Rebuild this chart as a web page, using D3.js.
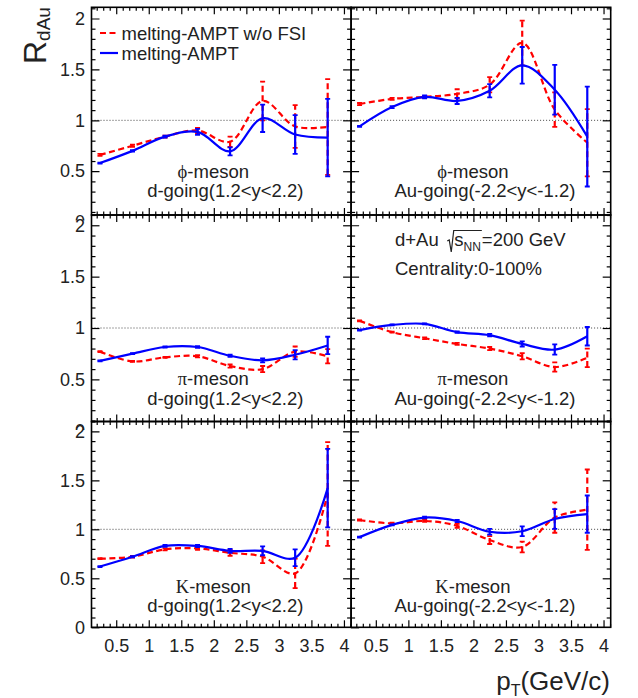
<!DOCTYPE html>
<html>
<head>
<meta charset="utf-8">
<script src="https://cdn.jsdelivr.net/npm/d3@7"></script>
<style>
  body { margin: 0; background: #fff; }
  text { font-family: "Liberation Sans", Arial, sans-serif; fill: #222; }
</style>
</head>
<body>
<svg id="chart" width="638" height="698"></svg>
<script>
// ---- data ----
var pt = [0.25, 0.75, 1.25, 1.75, 2.25, 2.75, 3.25, 3.75];
var xMajor = [0.5, 1, 1.5, 2, 2.5, 3, 3.5, 4];
var yMajor = [0, 0.5, 1, 1.5, 2];
var seriesNames = ["melting-AMPT w/o FSI", "melting-AMPT"];
var mesons = ["\u03D5", "\u03C0", "K"];
var rapidityLabels = ["d-going(1.2<y<2.2)", "Au-going(-2.2<y<-1.2)"];

// phi, d-going
var phiD_noFSI     = [0.66, 0.75, 0.84, 0.90, 0.79, 1.19, 0.94, 0.935];
var phiD_noFSI_err = [0.01, 0.01, 0.01, 0.025, 0.05, 0.19, 0.21, 0.47];
var phiD_melt      = [0.58, 0.70, 0.84, 0.886, 0.695, 1.02, 0.86, 0.83];
var phiD_melt_err  = [0.005, 0.008, 0.01, 0.03, 0.04, 0.135, 0.19, 0.38];
// phi, Au-going
var phiAu_noFSI     = [1.16, 1.21, 1.23, 1.26, 1.35, 1.76, 1.105, 0.78];
var phiAu_noFSI_err = [0.01, 0.01, 0.01, 0.045, 0.075, 0.22, 0.17, 0.33];
var phiAu_melt      = [0.94, 1.13, 1.23, 1.19, 1.29, 1.54, 1.30, 0.84];
var phiAu_melt_err  = [0.005, 0.01, 0.015, 0.03, 0.065, 0.18, 0.245, 0.49];
// pi, d-going
var piD_noFSI     = [0.77, 0.675, 0.715, 0.725, 0.63, 0.60, 0.77, 0.725];
var piD_noFSI_err = [0.005, 0.005, 0.005, 0.01, 0.015, 0.03, 0.05, 0.07];
var piD_melt      = [0.68, 0.75, 0.815, 0.815, 0.73, 0.685, 0.74, 0.83];
var piD_melt_err  = [0.005, 0.005, 0.005, 0.008, 0.01, 0.02, 0.045, 0.085];
// pi, Au-going
var piAu_noFSI     = [1.07, 0.96, 0.90, 0.845, 0.80, 0.725, 0.62, 0.71];
var piAu_noFSI_err = [0.005, 0.005, 0.008, 0.01, 0.015, 0.03, 0.045, 0.09];
var piAu_melt      = [0.98, 1.03, 1.04, 0.96, 0.93, 0.845, 0.79, 0.92];
var piAu_melt_err  = [0.005, 0.005, 0.005, 0.008, 0.012, 0.025, 0.05, 0.09];
// K, d-going
var kD_noFSI     = [0.70, 0.72, 0.795, 0.805, 0.76, 0.72, 0.55, 1.36];
var kD_noFSI_err = [0.005, 0.008, 0.01, 0.015, 0.03, 0.065, 0.15, 0.53];
var kD_melt      = [0.62, 0.72, 0.83, 0.83, 0.78, 0.78, 0.71, 1.42];
var kD_melt_err  = [0.005, 0.005, 0.01, 0.012, 0.02, 0.045, 0.085, 0.40];
// K, Au-going
var kAu_noFSI     = [1.095, 1.06, 1.085, 1.035, 0.89, 0.82, 1.12, 1.20];
var kAu_noFSI_err = [0.005, 0.008, 0.01, 0.02, 0.04, 0.055, 0.155, 0.41];
var kAu_melt      = [0.92, 1.045, 1.12, 1.085, 0.975, 0.98, 1.105, 1.155];
var kAu_melt_err  = [0.005, 0.005, 0.008, 0.012, 0.03, 0.05, 0.1, 0.19];

var xDomain = [0.12, 4.11];
var yDomains = [[0.07, 2.11], [0.09, 2.10], [0, 2.10]];

// ---- layout ----
var svg = d3.select("#chart");
var frameL = 91.5, frameW = 259.6;
var rowTop = [7.3, 215, 421.5], rowBot = [215, 421.5, 627.3];
var labelClip = [220.5, 430, 698];
var textBase = [[178, 197], [385, 405], [593, 612]];
var colors = ["#ff0000", "#0000ff"];

var panels = [
  [[phiD_noFSI, phiD_noFSI_err, phiD_melt, phiD_melt_err], [phiAu_noFSI, phiAu_noFSI_err, phiAu_melt, phiAu_melt_err]],
  [[piD_noFSI, piD_noFSI_err, piD_melt, piD_melt_err], [piAu_noFSI, piAu_noFSI_err, piAu_melt, piAu_melt_err]],
  [[kD_noFSI, kD_noFSI_err, kD_melt, kD_melt_err], [kAu_noFSI, kAu_noFSI_err, kAu_melt, kAu_melt_err]]
];

function range(a, b, step) {
  var out = [];
  for (var v = a; v <= b + 1e-9; v += step) out.push(Math.round(v * 10) / 10);
  return out;
}
var xMinor = range(0.2, 4.1, 0.1).filter(function(v) { return xMajor.indexOf(v) < 0; });
var yMinor = range(0.1, 2.1, 0.1).filter(function(v) { return yMajor.indexOf(v) < 0; });

var defs = svg.append("defs");

function drawPanel(r, c) {
  var left = frameL + c * frameW, right = left + frameW;
  var x = d3.scaleLinear().domain(xDomain).range([left, right]);
  var y = d3.scaleLinear().domain(yDomains[r]).range([rowBot[r], rowTop[r]]);
  var g = svg.append("g");

  var clipId = "clip" + r + c;
  defs.append("clipPath").attr("id", clipId).append("rect")
    .attr("x", left).attr("y", rowTop[r]).attr("width", frameW).attr("height", rowBot[r] - rowTop[r]);

  // reference line at 1
  g.append("line")
    .attr("x1", left).attr("x2", right).attr("y1", y(1)).attr("y2", y(1))
    .attr("stroke", "#444").attr("stroke-width", 1).attr("stroke-dasharray", "1,2");

  // ticks (inward) on all four sides
  function tickAxis(parent, axis, tv, size, tx, ty, labels) {
    var a = axis.tickValues(tv).tickSizeInner(size).tickSizeOuter(0);
    if (labels) a.tickFormat(function(d) { return String(d); }); else a.tickFormat("");
    var ag = parent.append("g").attr("transform", "translate(" + tx + "," + ty + ")").call(a);
    ag.select(".domain").remove();
    ag.selectAll("line").attr("stroke", "#000").attr("stroke-width", 1.2);
    ag.selectAll("text").attr("font-size", 18).attr("fill", "#222")
      .attr("font-family", "Liberation Sans, Arial, sans-serif");
    return ag;
  }
  var lastRow = r === 2, firstCol = c === 0;
  tickAxis(g, d3.axisBottom(x).tickPadding(11.6), xMajor, -7, 0, rowBot[r], lastRow);
  tickAxis(g, d3.axisBottom(x), xMinor, -3.5, 0, rowBot[r], false);
  tickAxis(g, d3.axisTop(x), xMajor, -7, 0, rowTop[r], false);
  tickAxis(g, d3.axisTop(x), xMinor, -3.5, 0, rowTop[r], false);
  var yMaj = yMajor.filter(function(v) { return v >= yDomains[r][0] - 0.1; });
  var yMin = yMinor.filter(function(v) { return v > yDomains[r][0]; });
  // left labels live in an untranslated wrapper so the clip works in page coordinates
  var lcId = "lclip" + r + c;
  var clipTop = r === 0 ? 0 : rowTop[r] - 20;
  defs.append("clipPath").attr("id", lcId).append("rect")
    .attr("x", 0).attr("y", clipTop).attr("width", right).attr("height", labelClip[r] - clipTop);
  var lw = g.append("g").attr("clip-path", "url(#" + lcId + ")");
  tickAxis(lw, d3.axisLeft(y).tickPadding(6.5), yMaj, -8, left, 0, firstCol);
  tickAxis(g, d3.axisLeft(y), yMin, -4, left, 0, false);
  tickAxis(g, d3.axisRight(y), yMaj.filter(function(v) { return v > yDomains[r][0]; }), -8, right, 0, false);
  tickAxis(g, d3.axisRight(y), yMin, -4, right, 0, false);

  // series
  var vals = panels[r][c];
  var line = d3.line()
    .curve(d3.curveCatmullRom.alpha(0.5))
    .x(function(d) { return x(d[0]); })
    .y(function(d) { return y(d[1]); });
  var pg = g.append("g").attr("clip-path", "url(#" + clipId + ")");
  [0, 1].forEach(function(s) {
    var v = vals[s * 2], e = vals[s * 2 + 1];
    var pts = pt.map(function(p, i) { return [p, v[i], e[i]]; });
    var dash = s === 0 ? "6,3.5" : null;
    pg.append("path").attr("d", line(pts))
      .attr("fill", "none").attr("stroke", colors[s]).attr("stroke-width", 2.2)
      .attr("stroke-dasharray", dash);
    var eb = pg.selectAll(null).data(pts).enter().append("g");
    eb.append("line")
      .attr("x1", function(d) { return x(d[0]); }).attr("x2", function(d) { return x(d[0]); })
      .attr("y1", function(d) { return y(d[1] - d[2]); }).attr("y2", function(d) { return y(d[1] + d[2]); })
      .attr("stroke", colors[s]).attr("stroke-width", 2.2).attr("stroke-dasharray", dash);
    [-1, 1].forEach(function(sg) {
      eb.append("line")
        .attr("x1", function(d) { return x(d[0]) - 2.5; }).attr("x2", function(d) { return x(d[0]) + 2.5; })
        .attr("y1", function(d) { return y(d[1] + sg * d[2]); }).attr("y2", function(d) { return y(d[1] + sg * d[2]); })
        .attr("stroke", colors[s]).attr("stroke-width", 1.8);
    });
  });

  // frame
  g.append("rect")
    .attr("x", left).attr("y", rowTop[r]).attr("width", frameW).attr("height", rowBot[r] - rowTop[r])
    .attr("fill", "none").attr("stroke", "#000").attr("stroke-width", 1.6);

  // panel labels
  var cx = left + frameW / 2;
  var t1 = g.append("text").attr("x", cx - 8).attr("y", textBase[r][0]).attr("text-anchor", "middle").attr("font-size", 18.5);
  t1.append("tspan").attr("font-family", "Liberation Serif, DejaVu Serif, serif").text(mesons[r]);
  t1.append("tspan").text("-meson");
  g.append("text").attr("x", cx + 4).attr("y", textBase[r][1]).attr("text-anchor", "middle").attr("font-size", 18.5)
    .text(rapidityLabels[c]);
}

for (var r = 0; r < 3; r++) for (var c = 0; c < 2; c++) drawPanel(r, c);

// legend
var legend = svg.append("g");
seriesNames.forEach(function(name, i) {
  var ly = 33 + i * 20;
  legend.append("line").attr("x1", 100).attr("x2", 118).attr("y1", ly).attr("y2", ly)
    .attr("stroke", colors[i]).attr("stroke-width", 2.2).attr("stroke-dasharray", i === 0 ? "6,3.5" : null);
  legend.append("text").attr("x", 121.5).attr("y", ly + 6.5).attr("font-size", 18.5).text(name);
});

// collision info
var infoX = 395, infoY = 246;
var it = svg.append("text").attr("x", infoX).attr("y", infoY).attr("font-size", 18.5).text("d+Au");
var rx = infoX + it.node().getComputedTextLength() + 8.5;
var st = svg.append("text").attr("x", rx + 7).attr("y", infoY).attr("font-size", 18.5);
st.append("tspan").text("s");
st.append("tspan").attr("font-size", 12).attr("dy", 5).text("NN");
var sw = st.node().getComputedTextLength();
var ox = rx + 7 + sw + 1;
svg.append("path")
  .attr("d", "M" + rx + "," + (infoY - 5) + "L" + (rx + 2) + "," + (infoY - 6) + "L" + (rx + 4) + "," + (infoY + 6) +
    "L" + (rx + 6.5) + "," + (infoY - 15.5) + "L" + ox + "," + (infoY - 15.5))
  .attr("fill", "none").attr("stroke", "#222").attr("stroke-width", 1.2);
svg.append("text").attr("x", ox).attr("y", infoY).attr("font-size", 18.5).text("=200 GeV");
svg.append("text").attr("x", infoX).attr("y", 275).attr("font-size", 18.5).text("Centrality:0-100%");

// axis titles
var yt = svg.append("text").attr("transform", "translate(46,64) rotate(-90)").attr("font-size", 32);
yt.append("tspan").text("R");
yt.append("tspan").attr("font-size", 19).attr("dy", 4).text("dAu");

var xt = svg.append("text").attr("x", 610).attr("y", 690).attr("text-anchor", "end").attr("font-size", 26);
xt.append("tspan").text("p");
xt.append("tspan").attr("font-size", 16).attr("dy", 6).text("T");
xt.append("tspan").attr("dy", -6).text("(GeV/c)");
</script>
</body>
</html>
